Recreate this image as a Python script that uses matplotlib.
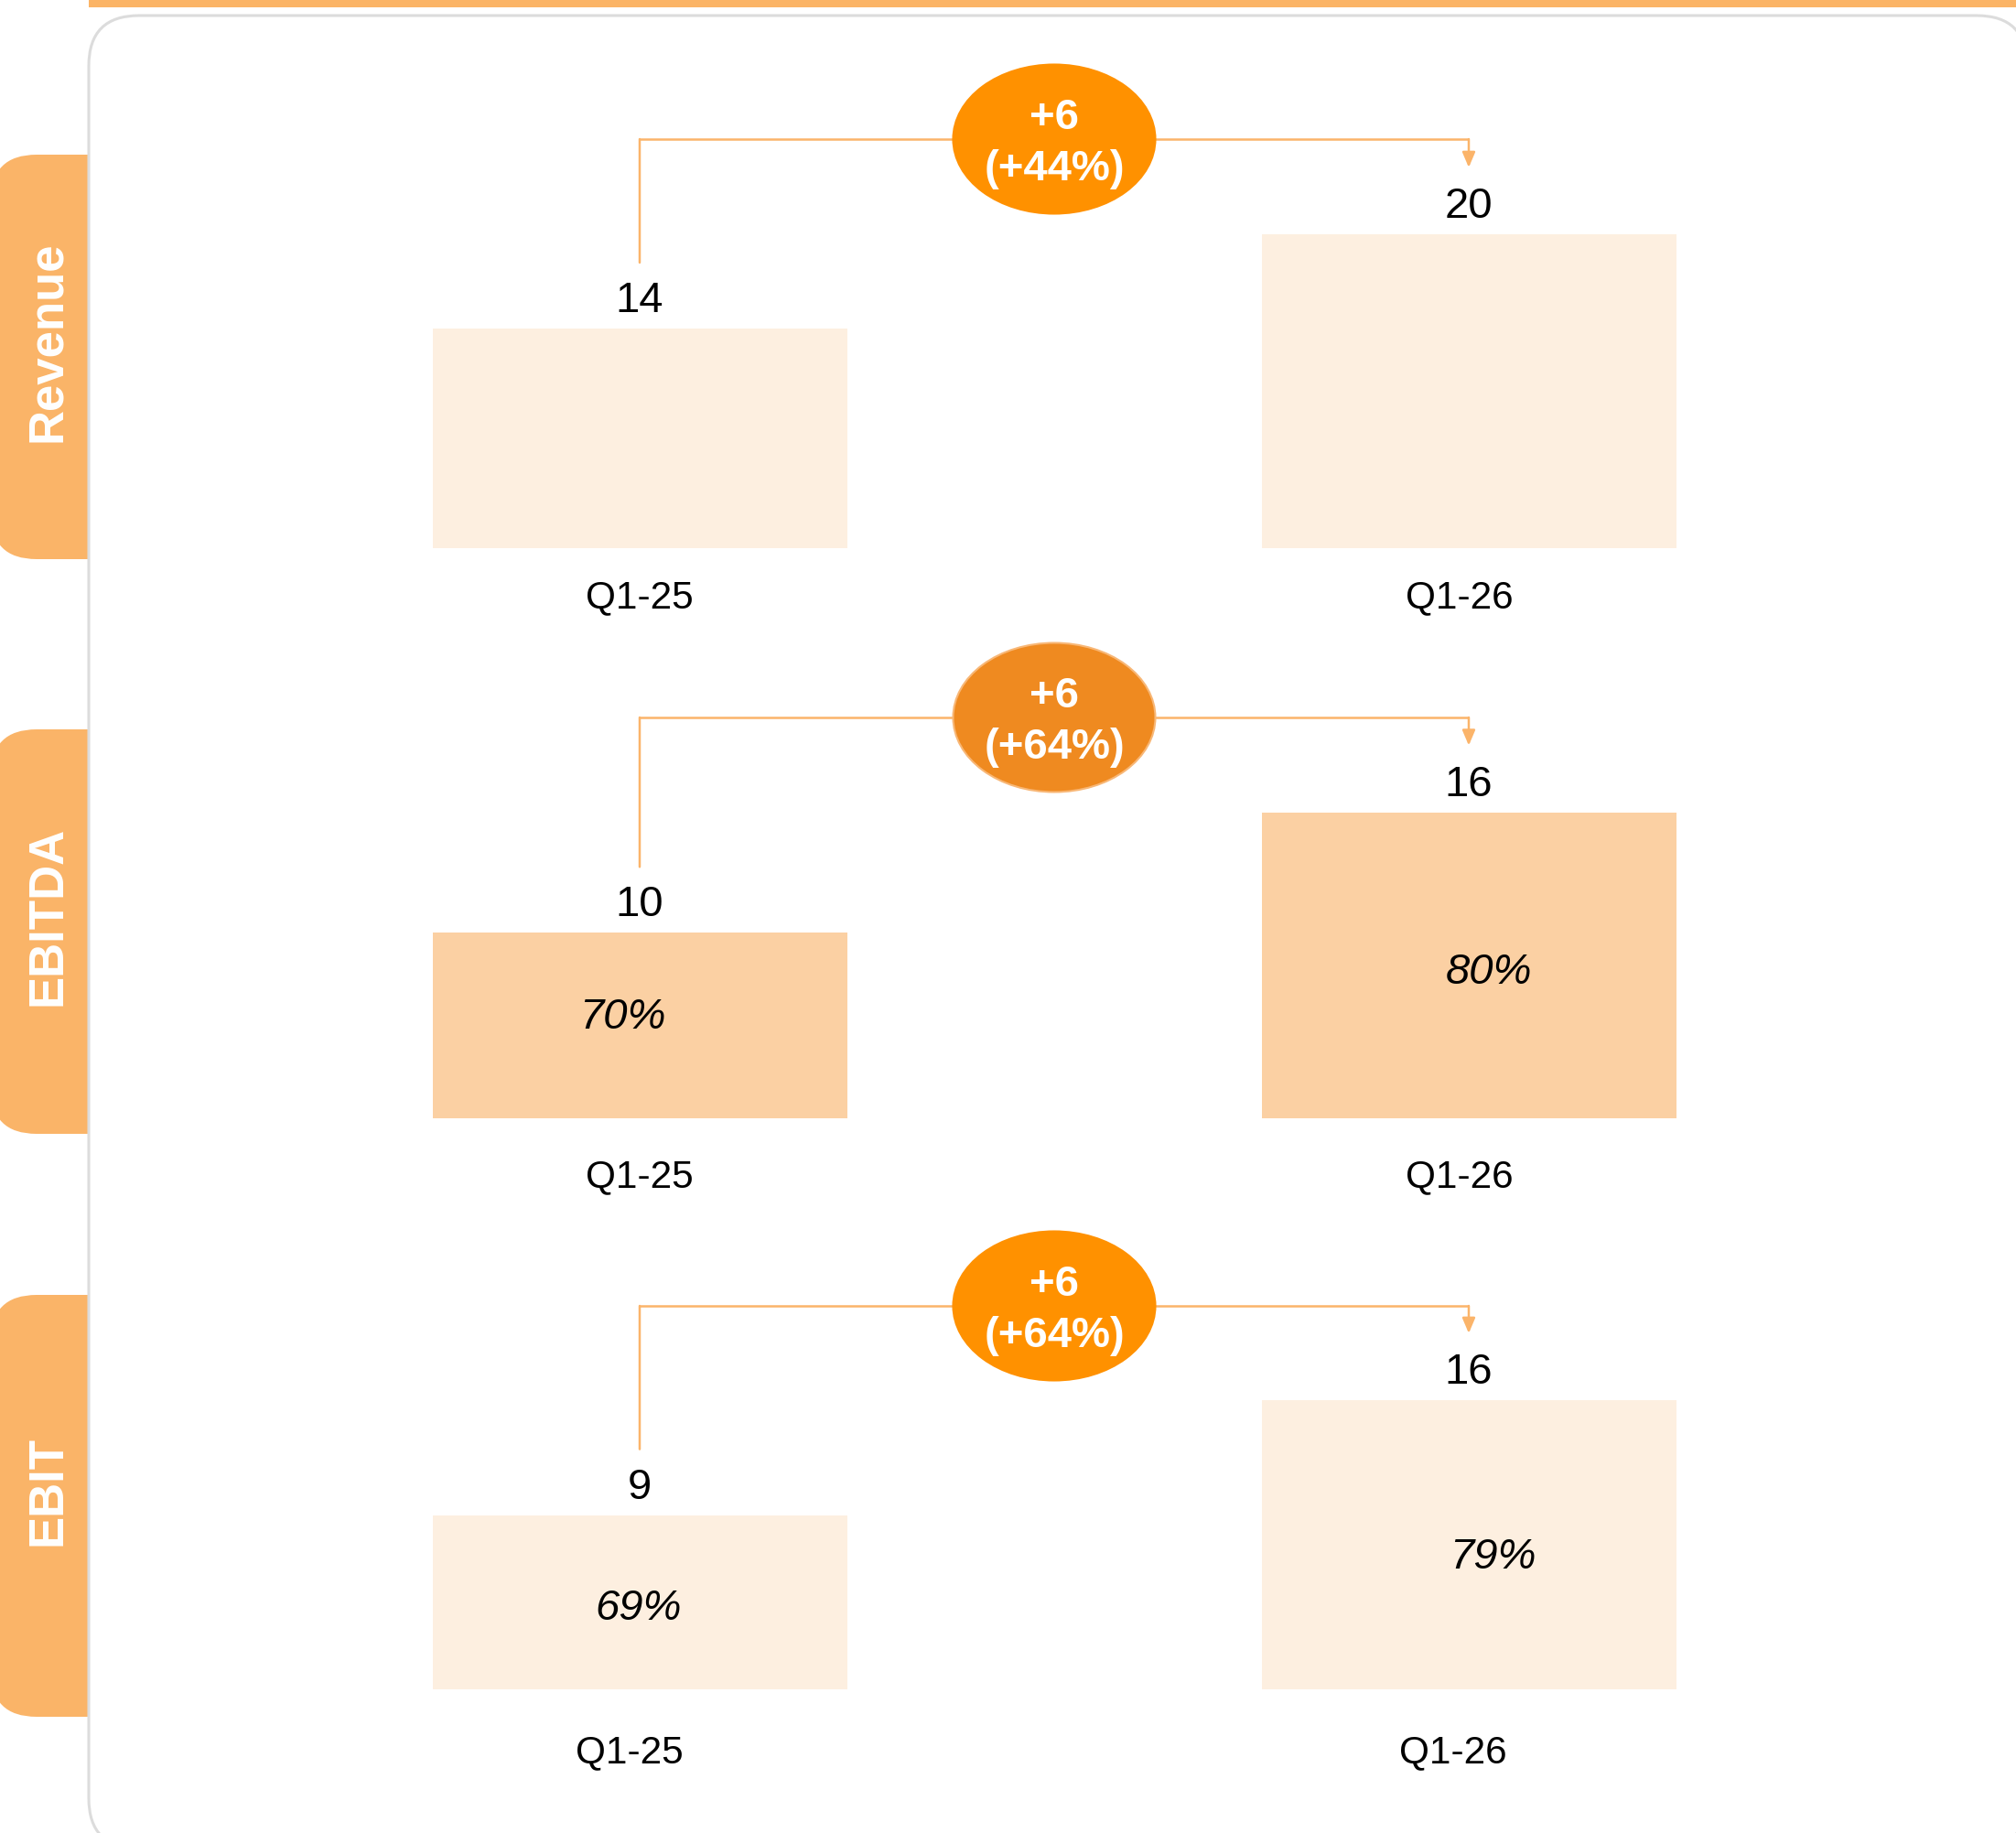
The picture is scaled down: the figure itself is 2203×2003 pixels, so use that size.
import matplotlib
matplotlib.use("Agg")
import matplotlib.pyplot as plt
from matplotlib.patches import FancyBboxPatch, Ellipse, Rectangle, ConnectionPatch
from matplotlib import transforms as mtrans

plt.rcParams['font.family'] = ['Liberation Sans', 'DejaVu Sans']

# ---------------- data ----------------
metrics = ["Revenue", "EBITDA", "EBIT"]
periods = ["Q1-25", "Q1-26"]
revenue = [14.0, 20.0]
ebitda = [9.7, 16.0]
ebit = [9.4, 15.6]
value_labels = [["14", "20"], ["10", "16"], ["9", "16"]]
margin_labels = [None, ["70%", "80%"], ["69%", "79%"]]
change_abs = ["+6", "+6", "+6"]
change_pct = ["(+44%)", "(+64%)", "(+64%)"]
series = [revenue, ebitda, ebit]

# ---------------- layout / style ----------------
W, H = 2203, 2003
baseline_px = [599, 1222, 1846]
px_per_unit = [17.15, 20.9, 20.26]
line_y = [152, 784, 1427]
tab_y = [(169, 611), (797, 1239), (1415, 1876)]
bar_colors = ['#FDEFE0', '#FBD0A3', '#FDEFE0']
bubble_fc = ['#FF9100', '#EF8A20', '#FF9100']
bubble_ec = ['#FF9100', '#F8B776', '#FF9100']
cat_off = [[(0, 54), (-10, 54)], [(0, 64), (-10, 64)], [(-11, 69), (-17, 69)]]
margin_off = [None, [(-19, 9), (22, -8)], [(-1, -7), (26, -14)]]
line_c = '#FBB46A'
tab_c = '#FAB468'

fig = plt.figure(figsize=(W / 100, H / 100), dpi=100)
bg = fig.add_axes([0, 0, 1, 1])
bg.set_xlim(0, W)
bg.set_ylim(H, 0)
bg.axis('off')
bg.set_zorder(0)

# tabs
for name, (y0, y1) in zip(metrics, tab_y):
    bg.add_patch(FancyBboxPatch((-10, y0), 170, y1 - y0,
                                boxstyle="round,pad=0,rounding_size=50",
                                fc=tab_c, ec='none', zorder=1))
    bg.text(52, (y0 + y1) / 2 - 17, name, rotation=90, color='white',
            fontweight='bold', fontsize=38, ha='center', va='center', zorder=5)

# main panel
bg.add_patch(FancyBboxPatch((97, 17), 2215 - 97, 2020 - 17,
                            boxstyle="round,pad=0,rounding_size=55",
                            fc='white', ec='#DCDCDC', lw=2.2, zorder=2))
# top bar
bg.add_patch(Rectangle((97, 0), W - 97, 8, fc='#FBB466', ec='none', zorder=3))

ax_left, ax_right = 246, 2058
ax_h = 500
for k in range(3):
    vals = series[k]
    base = baseline_px[k]
    ax = fig.add_axes([ax_left / W, (H - base) / H, (ax_right - ax_left) / W, ax_h / H])
    ax.set_zorder(1)
    ax.patch.set_visible(False)
    ax.axis('off')
    ax.set_autoscale_on(False)
    ax.set_xlim(-0.5, 1.5)
    ax.set_ylim(0, ax_h / px_per_unit[k])

    ax.bar([0, 1], vals, width=0.5, color=bar_colors[k], zorder=1)

    for i, v in enumerate(vals):
        ax.annotate(value_labels[k][i], xy=(i, v), xytext=(0, 30),
                    textcoords='offset pixels', ha='center', va='center',
                    fontsize=34, color='black', annotation_clip=False)
        dx, dy = cat_off[k][i]
        ax.annotate(periods[i], xy=(i, 0), xytext=(dx, -dy),
                    textcoords='offset pixels', ha='center', va='center',
                    fontsize=30.5, color='black', annotation_clip=False)
        if margin_labels[k] is not None:
            mx, my = margin_off[k][i]
            ax.annotate(margin_labels[k][i], xy=(i, v / 2), xytext=(mx, my),
                        textcoords='offset pixels', ha='center', va='center',
                        fontsize=34, style='italic', color='black',
                        annotation_clip=False)

    tl = mtrans.blended_transform_factory(ax.transData, bg.transData)
    up72 = mtrans.offset_copy(ax.transData, fig=fig, x=0, y=72, units='dots')
    up73 = mtrans.offset_copy(ax.transData, fig=fig, x=0, y=73, units='dots')

    cl = ConnectionPatch(xyA=(0, line_y[k]), coordsA=tl, xyB=(0, vals[0]), coordsB=up72,
                         color=line_c, lw=1.8, zorder=2, clip_on=False)
    ax.add_artist(cl)
    ax.plot([0, 1], [line_y[k], line_y[k]], transform=tl, color=line_c, lw=1.8,
            zorder=2, clip_on=False, solid_capstyle='butt')
    cr = ConnectionPatch(xyA=(1, line_y[k]), coordsA=tl, xyB=(1, vals[1]), coordsB=up73,
                         arrowstyle="-|>,head_length=0.4,head_width=0.17",
                         mutation_scale=25, color=line_c, lw=1.8, zorder=2,
                         clip_on=False)
    ax.add_artist(cr)

    ell = Ellipse((0.5, line_y[k]), width=221 / 906, height=163, transform=tl,
                  fc=bubble_fc[k], ec=bubble_ec[k], lw=1.5, zorder=4, clip_on=False)
    ax.add_patch(ell)
    ax.text(0.5, line_y[k] + 5, change_abs[k] + "\n" + change_pct[k], transform=tl,
            ha='center', va='center', color='white', fontweight='bold',
            fontsize=34, linespacing=1.37, zorder=5, clip_on=False)

fig.savefig('out.png', dpi=100)
